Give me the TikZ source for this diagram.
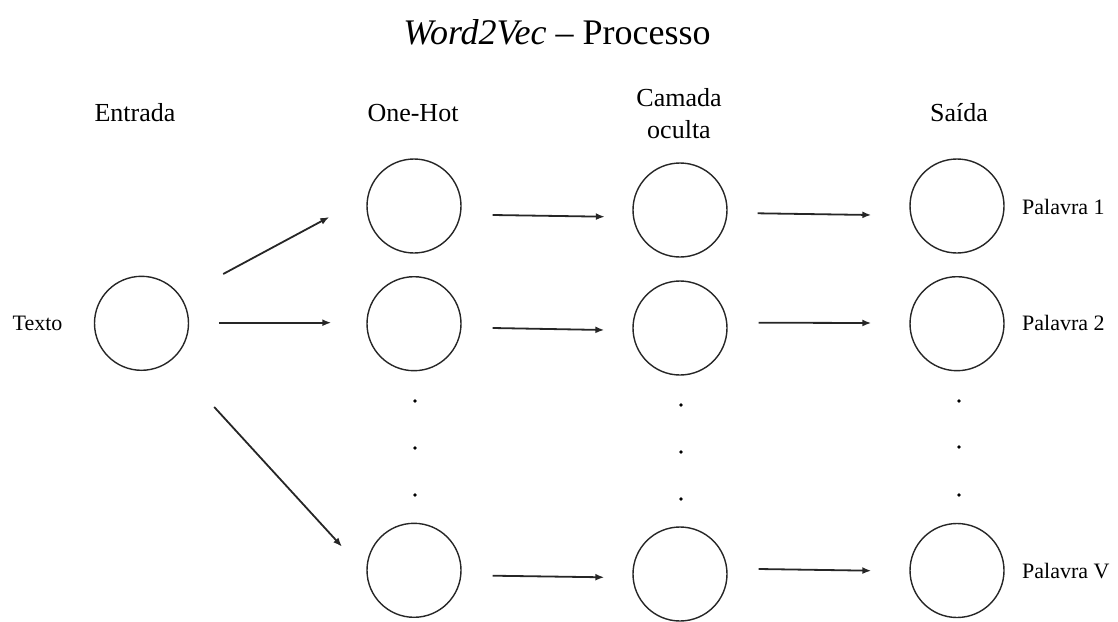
\documentclass[tikz,border=0pt]{standalone}
\usepackage{fontspec}
\setmainfont{Liberation Serif}
\usetikzlibrary{arrows.meta,calc}
\tikzset{
  neuron/.style={circle, draw=black!85, line width=1.4pt, minimum size=94pt, inner sep=0pt},
  arr/.style={draw=black!85, line width=1.8pt, -{Latex[length=9pt,width=7pt]}},
  header/.style={font=\fontsize{26}{28}\selectfont, align=center, inner sep=0pt},
  side/.style={font=\fontsize{22}{24}\selectfont, inner sep=0pt},
  vdot/.style={fill=black}
}
\begin{document}
\begin{tikzpicture}[x=1pt, y=-1pt]
\useasboundingbox (0,0) rectangle (1118,621);
% title
\node[inner sep=0pt, font=\fontsize{36}{38}\selectfont] (title) at (557,32) {\textit{Word2Vec} -- Processo};
% headers
\node[header] (hEntrada) at (135,113) {Entrada};
\node[header] (hOneHot) at (413,113) {One-Hot};
\node[header, font=\fontsize{26}{32}\selectfont] (hCamada) at (679,114) {Camada\\oculta};
\node[header] (hSaida) at (959,113) {Saída};
% neurons
\node[neuron] (tx) at (141.5,323.3) {};
\node[neuron] (oh1) at (414,206) {};
\node[neuron] (oh2) at (414,323.7) {};
\node[neuron] (oh3) at (414,570.3) {};
\node[neuron] (co1) at (680,210) {};
\node[neuron] (co2) at (680,328) {};
\node[neuron] (co3) at (680,574) {};
\node[neuron] (sa1) at (957,206) {};
\node[neuron] (sa2) at (957,323.7) {};
\node[neuron] (sa3) at (957,570.5) {};
% side labels
\node[side] (lTexto) at (37.5,323) {Texto};
\node[side, anchor=west] (lP1) at (1022,207) {Palavra 1};
\node[side, anchor=west] (lP2) at (1022,323) {Palavra 2};
\node[side, anchor=west] (lPV) at (1022,571) {Palavra V};
% dots
\foreach \y in {401,448,495} \fill[vdot] (415,\y) circle (1.8);
\foreach \y in {405,452,499} \fill[vdot] (681,\y) circle (1.8);
\foreach \y in {401,447,495} \fill[vdot] (959,\y) circle (1.8);
% arrows from input
\draw[arr] ($(tx.east)+(34,-49.3)$) -- ($(oh1.west)+(-37,11)$);
\draw[arr] ($(tx.east)+(29.6,-0.6)$) -- ($(oh2.west)+(-35,-1)$);
\draw[arr] ($(tx.east)+(25,83.7)$) -- ($(oh3.west)+(-24.3,-23.6)$);
% one-hot -> hidden
\draw[arr] ($(oh1.east)+(31,9)$) -- ($(co1.west)+(-27.5,6.7)$);
\draw[arr] ($(oh2.east)+(31,4.3)$) -- ($(co2.west)+(-28,2)$);
\draw[arr] ($(oh3.east)+(31,5.4)$) -- ($(co3.west)+(-28,3.3)$);
% hidden -> output
\draw[arr] ($(co1.east)+(30,3.3)$) -- ($(sa1.west)+(-38,9)$);
\draw[arr] ($(co2.east)+(31,-5.3)$) -- ($(sa2.west)+(-38,-0.7)$);
\draw[arr] ($(co3.east)+(31,-5)$) -- ($(sa3.west)+(-38,0.2)$);
\end{tikzpicture}
\end{document}
